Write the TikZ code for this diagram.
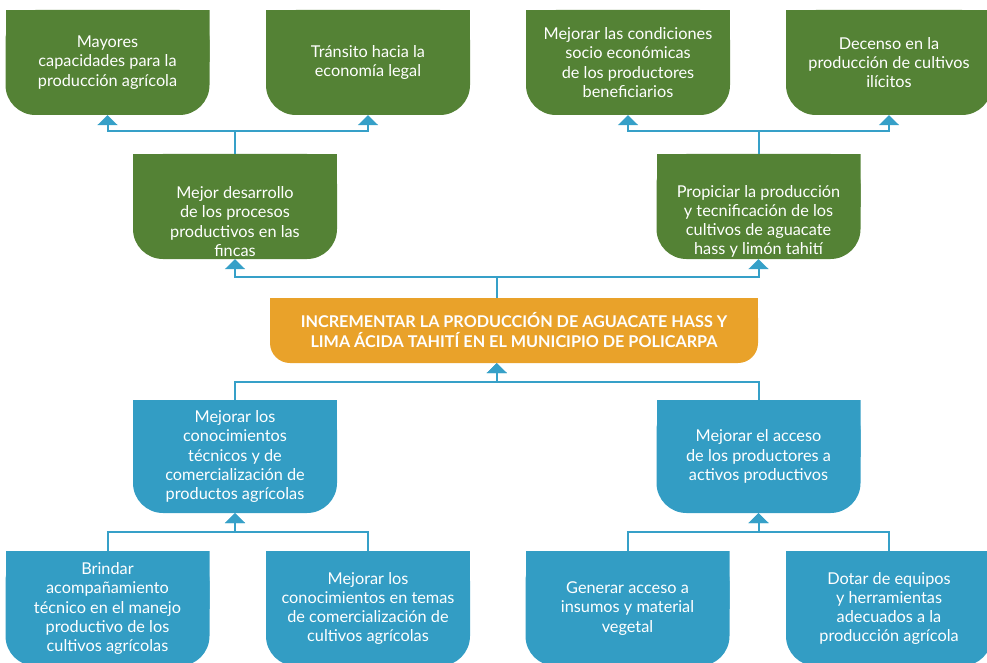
\documentclass[tikz,border=0pt]{standalone}
\usepackage{fontspec}
\setmainfont{Lato}
\usetikzlibrary{arrows.meta,calc}
\definecolor{gbox}{HTML}{548235}
\definecolor{bbox}{HTML}{339DC4}
\definecolor{obox}{HTML}{E9A22A}
\definecolor{lblue}{HTML}{36A0C8}
\tikzset{
  txt/.style={inner sep=0pt, text=white, align=center, font=\fontsize{16.3}{19.2}\selectfont},
  box/.style={txt, minimum width=204pt, minimum height=105pt,
    path picture={
      \fill[#1, rounded corners=30pt] (path picture bounding box.north west) rectangle (path picture bounding box.south east);
      \fill[#1] (path picture bounding box.north west) rectangle (path picture bounding box.east);
    }},
  obx/.style={inner sep=0pt, text=white, align=center, font=\bfseries\fontsize{16.2}{20}\selectfont,
    minimum width=488pt, minimum height=65pt,
    path picture={
      \fill[obox, rounded corners=20pt] (path picture bounding box.north west) rectangle (path picture bounding box.south east);
      \fill[obox] (path picture bounding box.north west) rectangle (path picture bounding box.east);
    }},
  conn/.style={draw=lblue, line width=2pt},
  arr/.style={-{Triangle[width=20pt,length=10pt]}},
}
\begin{document}
\begin{tikzpicture}[x=1pt,y=-1pt]
\useasboundingbox (0,0) rectangle (987,663);
\clip (0,0) rectangle (987,663);
% top row
\node[box=gbox] (a1) at (107.5,62.5) {Mayores\\capacidades para la\\producción agrícola};
\node[box=gbox] (a2) at (368,62.5) {Tránsito hacia la\\economía legal};
\node[box=gbox] (a3) at (628,62.5) {Mejorar las condiciones\\socio económicas\\de los productores\\beneficiarios};
\node[box=gbox, minimum width=206pt] (a4) at (889,62.5) {Decenso en la\\producción de cultivos\\ilícitos};
% second row
\node[box=gbox] (d1) at (235,206.5) {};
\node[txt] (d1t) at ($(d1.center)+(0,15)$) {Mejor desarrollo\\de los procesos\\productivos en las\\fincas};
\node[box=gbox] (d2) at (758.5,206.5) {};
\node[txt] (d2t) at ($(d2.center)+(0,15)$) {Propiciar la producción\\y tecnificación de los\\cultivos de aguacate\\hass y limón tahití};
% central
\node[obx] (o) at (514,330.5) {INCREMENTAR LA PRODUCCIÓN DE AGUACATE HASS Y\\LIMA ÁCIDA TAHITÍ EN EL MUNICIPIO DE POLICARPA};
% blue middle
\node[box=bbox, minimum height=113pt] (c1) at (235,456.5) {Mejorar los\\conocimientos\\técnicos y de\\comercialización de\\productos agrícolas};
\node[box=bbox, minimum height=113pt] (c2) at (758.5,456.5) {Mejorar el acceso\\de los productores a\\activos productivos};
% bottom
\node[box=bbox, minimum height=115pt] (b1) at (107.5,608.5) {Brindar\\acompañamiento\\técnico en el manejo\\productivo de los\\cultivos agrícolas};
\node[box=bbox, minimum height=115pt] (b2) at (368,608.5) {Mejorar los\\conocimientos en temas\\de comercialización de\\cultivos agrícolas};
\node[box=bbox, minimum height=115pt] (b3) at (627.5,608.5) {Generar acceso a\\insumos y material\\vegetal};
\node[box=bbox, minimum height=115pt, minimum width=206pt] (b4) at (889,608.5) {Dotar de equipos\\y herramientas\\adecuados a la\\producción agrícola};
% connectors
\draw[conn,arr] (d1.north) -- ++(0,-23) -| (a1.south);
\draw[conn,arr] (d1.north) -- ++(0,-23) -| (a2.south);
\draw[conn,arr] (d2.north) -- ++(0,-23) -| (a3.south);
\draw[conn,arr] (d2.north) -- ++(0,-23) -| (a4.south);
\coordinate (oc) at ($(d1.south)!0.5!(d2.south)$);
\draw[conn] (o.north -| oc) -- ++(0,-21) coordinate (oj);
\draw[conn,arr] (oj) -| (d1.south);
\draw[conn,arr] (oj) -| (d2.south);
\draw[conn,arr] (c1.north) -- ++(0,-18) -| (o.south -| oc);
\draw[conn,arr] (c2.north) -- ++(0,-18) -| (o.south -| oc);
\draw[conn,arr] (b1.north) -- ++(0,-19) -| (c1.south);
\draw[conn,arr] (b2.north) -- ++(0,-19) -| (c1.south);
\draw[conn,arr] (b3.north) -- ++(0,-19) -| (c2.south);
\draw[conn,arr] (b4.north) -- ++(0,-19) -| (c2.south);
\end{tikzpicture}
\end{document}
